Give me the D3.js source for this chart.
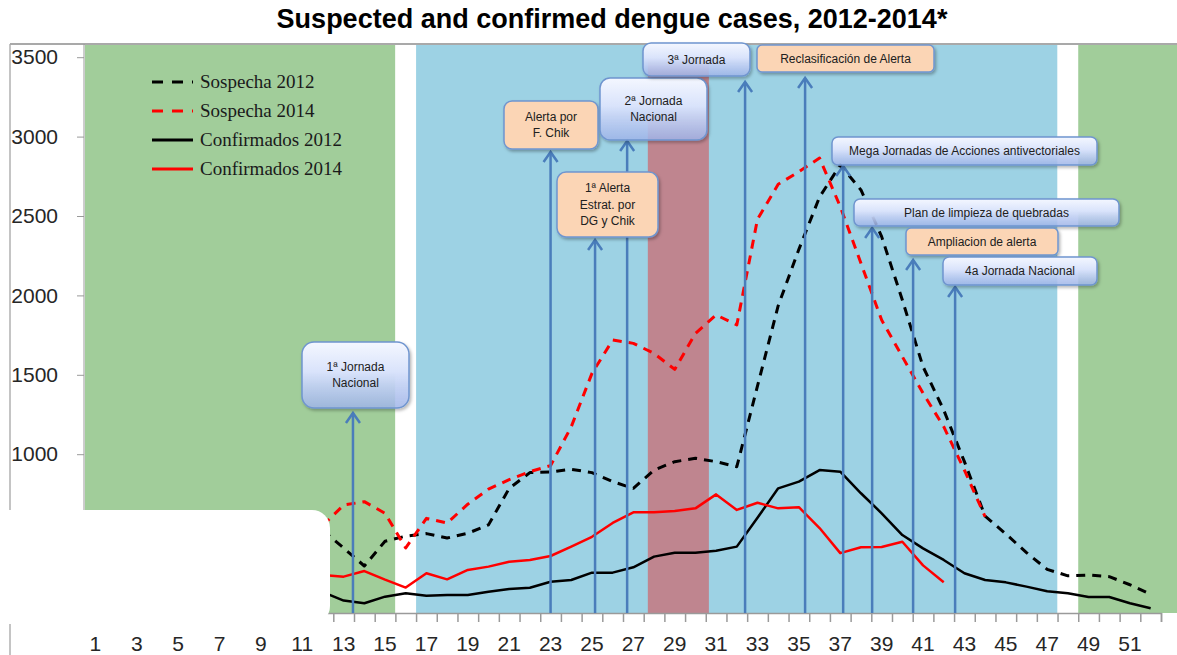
<!DOCTYPE html>
<html>
<head>
<meta charset="utf-8">
<script src="https://cdn.jsdelivr.net/npm/d3@7"></script>
<style>
  body { margin: 0; background: #fff; }
  svg { display: block; }
</style>
</head>
<body>
<div id="chart"></div>
<script>
// epidemiological weeks
const weeks = d3.range(1, 53);

// weeks 1-11 sit behind the white cover in the picture
const hidden = Array(11).fill(null);

// Sospecha 2012 (weeks 12-52)
const sospecha2012 = hidden.concat([
  519, 409, 296, 452, 484, 500, 472, 502, 555, 785, 884, 888, 905, 884, 827,
  785, 900, 953, 974, 953, 921, 1430, 1935, 2290, 2620, 2821, 2664, 2370,
  1971, 1551, 1278, 953, 610, 498, 380, 275, 234, 239, 229, 178, 117
]);

// Sospecha 2014 (weeks 12-44)
const sospecha2014 = hidden.concat([
  552, 680, 701, 628, 410, 596, 567, 685, 780, 840, 890, 928, 1173, 1509,
  1719, 1698, 1635, 1534, 1761, 1877, 1814, 2480, 2700, 2779, 2865, 2559,
  2202, 1845, 1614, 1384, 1173, 900, 606
], Array(8).fill(null));

// Confirmados 2012 (weeks 12-52)
const confirmados2012 = hidden.concat([
  132, 78, 61, 103, 124, 109, 113, 113, 134, 151, 159, 197, 208, 254, 254,
  288, 355, 380, 380, 392, 418, 600, 785, 827, 900, 890, 754, 628, 491, 407,
  334, 250, 208, 193, 166, 137, 124, 101, 101, 61, 30
]);

// Confirmados 2014 (weeks 12-42)
const confirmados2014 = hidden.concat([
  239, 229, 264, 210, 160, 250, 212, 271, 292, 323, 334, 359, 418, 480, 567,
  634, 634, 642, 659, 747, 649, 694, 659, 666, 535, 377, 414, 416, 449, 300,
  194
], Array(10).fill(null));

const seriesNames = ["Sospecha 2012", "Sospecha 2014", "Confirmados 2012", "Confirmados 2014"];
const seriesValues = [sospecha2012, sospecha2014, confirmados2012, confirmados2014];

const yTicks = [0, 500, 1000, 1500, 2000, 2500, 3000, 3500];
const xTickLabels = weeks.filter(w => w % 2 === 1);

// shaded periods, in weeks
const periodKinds = ["green", "white", "blue", "white", "green", "mauve"];
const periodFrom = [0, 15, 16, 47, 48, 27.2];
const periodTo = [15, 16, 47, 48, 53, 30.15];

// annotations: text lines, kind and the week the arrow stands on
const noteLines = [
  ["1ª Jornada", "Nacional"],
  ["Alerta por", "F. Chik"],
  ["1ª Alerta", "Estrat. por", "DG y Chik"],
  ["2ª Jornada", "Nacional"],
  ["3ª Jornada"],
  ["Reclasificación de Alerta"],
  ["Mega Jornadas de Acciones antivectoriales"],
  ["Plan de limpieza de quebradas"],
  ["Ampliacion de alerta"],
  ["4a Jornada Nacional"]
];
const noteKinds = ["blue", "orange", "orange", "blue", "blue", "orange", "blue", "blue", "orange", "blue"];
const noteWeeks = [13.45, 23.0, 25.15, 26.7, 32.4, 35.3, 37.14, 38.54, 40.52, 42.55];

// ---- layout ----
const W = 1177, H = 655;
const plot = { left: 85, right: 1161, top: 44, bottom: 613 };

// box geometry [x0, y0, x1, y1, corner radius] and arrow tip y for each note
const noteBoxes = [
  [302, 342, 409, 408, 12],
  [504, 101, 598, 149, 8],
  [557, 172, 658, 237, 9],
  [600, 78, 707, 140, 10],
  [643, 43, 750, 76, 8],
  [757, 45, 934, 72, 5],
  [832, 137, 1097, 165, 6],
  [854, 199, 1119, 226, 6],
  [906, 228, 1058, 255, 5],
  [943, 257, 1097, 285, 6]
];
const noteTips = [413, 152, 240, 141, 82, 78, 166, 228, 260, 287];

const periodColor = { green: "#a1cd9a", white: "#ffffff", blue: "#9dd2e4", mauve: "#bf858f" };
const seriesStyle = [
  { color: "#000", dash: "9,7", width: 3 },
  { color: "#ff0000", dash: "9,7", width: 3 },
  { color: "#000", dash: null, width: 2.5 },
  { color: "#ff0000", dash: null, width: 2.5 }
];

const svg = d3.select("#chart").append("svg")
  .attr("width", W)
  .attr("height", H)
  .style("font-family", "'Liberation Sans', Arial, sans-serif");

const defs = svg.append("defs");
const grad = defs.append("linearGradient")
  .attr("id", "blueBox").attr("x1", 0).attr("y1", 0).attr("x2", 0).attr("y2", 1);
grad.append("stop").attr("offset", "0%").attr("stop-color", "#f4f7ff");
grad.append("stop").attr("offset", "45%").attr("stop-color", "#d9e3fb");
grad.append("stop").attr("offset", "100%").attr("stop-color", "#a2b8ee").attr("stop-opacity", 0.78);

const shadow = defs.append("filter").attr("id", "shadow")
  .attr("x", "-10%").attr("y", "-20%").attr("width", "130%").attr("height", "160%");
shadow.append("feDropShadow")
  .attr("dx", 1.5).attr("dy", 2).attr("stdDeviation", 1.5)
  .attr("flood-color", "#000").attr("flood-opacity", 0.3);

// scales
const x = d3.scaleLinear().domain([0, 52]).range([plot.left, plot.right]);
const xc = w => x(w - 0.5); // centre of a week
const y = d3.scaleLinear().domain([0, 3500]).range([plot.bottom, 57.2]);
const xBand = d3.scaleBand().domain(weeks).range([x(0), x(52)]);

// title
svg.append("text")
  .attr("x", 612)
  .attr("y", 28)
  .attr("text-anchor", "middle")
  .style("font-weight", "bold")
  .style("font-size", "27px")
  .attr("fill", "#000")
  .text("Suspected and confirmed dengue cases, 2012-2014*");

// outer frame (left and top)
svg.append("line")
  .attr("x1", 10).attr("x2", 10).attr("y1", plot.top).attr("y2", H)
  .attr("stroke", "#c4c4c4").attr("stroke-width", 2);
svg.append("line")
  .attr("x1", 10).attr("x2", W).attr("y1", plot.top).attr("y2", plot.top)
  .attr("stroke", "#a9a9a9").attr("stroke-width", 2);

// shaded periods
svg.append("g")
  .selectAll("rect")
  .data(periodKinds)
  .join("rect")
  .attr("x", (d, i) => x(periodFrom[i]))
  .attr("width", (d, i) => x(periodTo[i]) - x(periodFrom[i]))
  .attr("y", plot.top + 1)
  .attr("height", plot.bottom - plot.top - 1)
  .attr("fill", d => periodColor[d]);

// y axis
const yAxis = svg.append("g")
  .attr("transform", `translate(${plot.left - 1},0)`)
  .call(d3.axisLeft(y).tickValues(yTicks).tickFormat(d3.format("d")).tickSize(7).tickPadding(19));
yAxis.select(".domain").remove();
yAxis.selectAll(".tick line").attr("stroke", "#9a9a9a");
yAxis.selectAll(".tick text")
  .style("font-size", "21px")
  .attr("fill", "#262626");
svg.append("line")
  .attr("x1", plot.left - 1).attr("x2", plot.left - 1)
  .attr("y1", plot.top).attr("y2", plot.bottom)
  .attr("stroke", "#9a9a9a");

// x axis: tick marks on week boundaries, labels on odd weeks
const xAxis = svg.append("g")
  .attr("transform", `translate(0,${plot.bottom})`)
  .call(d3.axisBottom(x).tickValues(d3.range(0, 53)).tickSize(9).tickFormat(""));
xAxis.select(".domain").attr("stroke", "#9a9a9a").attr("stroke-width", 1.5);
xAxis.selectAll(".tick line").attr("stroke", "#9a9a9a").attr("stroke-width", 1.5);

const xLabels = svg.append("g")
  .attr("transform", `translate(0,${plot.bottom})`)
  .call(d3.axisBottom(xBand).tickValues(xTickLabels).tickSize(0).tickPadding(23));
xLabels.select(".domain").remove();
xLabels.selectAll(".tick text")
  .style("font-size", "21px")
  .attr("fill", "#262626");

// series lines
const line = d3.line()
  .defined(d => d != null)
  .x((d, i) => xc(weeks[i]))
  .y(d => y(d));

svg.append("g")
  .selectAll("path")
  .data(seriesValues)
  .join("path")
  .attr("fill", "none")
  .attr("stroke", (d, i) => seriesStyle[i].color)
  .attr("stroke-width", (d, i) => seriesStyle[i].width)
  .attr("stroke-dasharray", (d, i) => seriesStyle[i].dash)
  .attr("stroke-linejoin", "round")
  .attr("d", line);

// arrows
const arrows = svg.append("g")
  .attr("stroke", "#4a7dbb")
  .attr("stroke-width", 2.5)
  .attr("fill", "none");
arrows.selectAll("line")
  .data(noteWeeks)
  .join("line")
  .attr("x1", d => xc(d)).attr("x2", d => xc(d))
  .attr("y1", plot.bottom).attr("y2", (d, i) => noteTips[i]);
arrows.selectAll("path")
  .data(noteWeeks)
  .join("path")
  .attr("d", (d, i) => `M${xc(d) - 7},${noteTips[i] + 10}L${xc(d)},${noteTips[i]}L${xc(d) + 7},${noteTips[i] + 10}`);

// annotation boxes
const notes = svg.append("g")
  .selectAll("g")
  .data(noteLines)
  .join("g");
notes.append("rect")
  .attr("x", (d, i) => noteBoxes[i][0])
  .attr("y", (d, i) => noteBoxes[i][1])
  .attr("width", (d, i) => noteBoxes[i][2] - noteBoxes[i][0])
  .attr("height", (d, i) => noteBoxes[i][3] - noteBoxes[i][1])
  .attr("rx", (d, i) => noteBoxes[i][4])
  .attr("fill", (d, i) => noteKinds[i] === "blue" ? "url(#blueBox)" : "#fbd5b5")
  .attr("stroke", "#6f95cf")
  .attr("stroke-width", 1.5)
  .attr("filter", "url(#shadow)");
notes.each(function (d, i) {
  const b = noteBoxes[i];
  const cx = (b[0] + b[2]) / 2;
  const cy = (b[1] + b[3]) / 2;
  const lh = 16.5;
  d3.select(this).selectAll("text")
    .data(d)
    .join("text")
    .attr("x", cx)
    .attr("y", (t, j) => cy + (j - (d.length - 1) / 2) * lh)
    .attr("dy", "0.35em")
    .attr("text-anchor", "middle")
    .style("font-size", "12px")
    .attr("fill", "#202020")
    .text(t => t);
});

// white cover over the lower left corner
svg.append("rect")
  .attr("x", -40)
  .attr("y", 510)
  .attr("width", 370)
  .attr("height", 114)
  .attr("rx", 18)
  .attr("fill", "#fff");

// legend
const legend = svg.append("g")
  .attr("transform", "translate(152,82)")
  .selectAll("g")
  .data(seriesNames)
  .join("g")
  .attr("transform", (d, i) => `translate(0,${i * 29})`);
legend.append("line")
  .attr("x1", 0).attr("x2", 41)
  .attr("stroke", (d, i) => seriesStyle[i].color)
  .attr("stroke-width", 3)
  .attr("stroke-dasharray", (d, i) => seriesStyle[i].dash ? "11,9" : null);
legend.append("text")
  .attr("x", 48)
  .attr("dy", "0.33em")
  .style("font-family", "'Liberation Serif', 'Times New Roman', serif")
  .style("font-size", "19px")
  .attr("fill", "#1a1a1a")
  .text(d => d);
</script>
</body>
</html>
